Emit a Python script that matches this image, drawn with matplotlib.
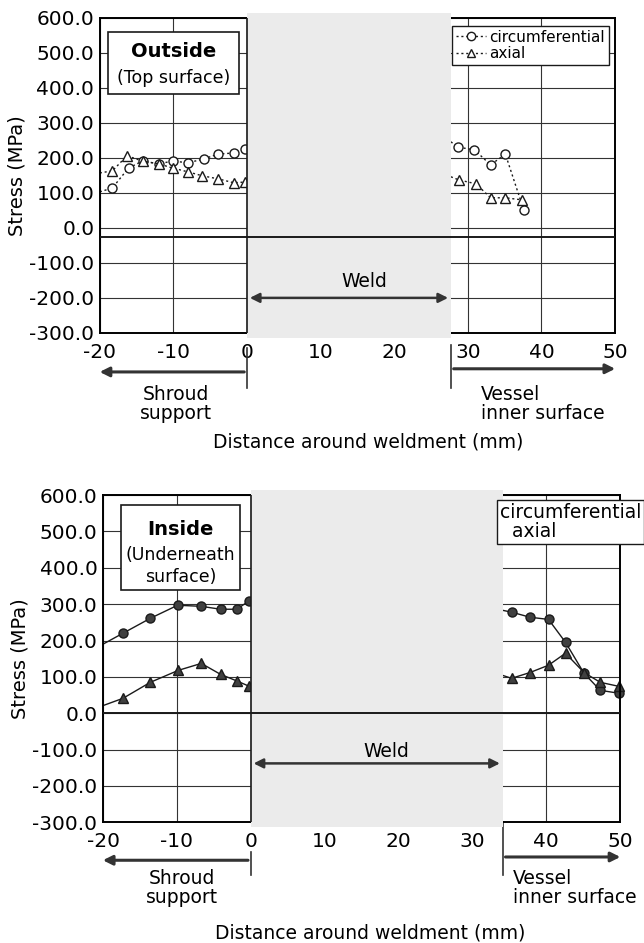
import matplotlib

matplotlib.use("Agg")
import matplotlib.pyplot as plt
from matplotlib.lines import Line2D
from matplotlib.patches import Rectangle

plt.rcParams["font.family"] = ["DejaVu Sans"]
plt.rcParams["axes.unicode_minus"] = False

# outside (top surface); first value of each segment is where the line enters
out_circ_left_x = [-20, -18.3, -16.1, -14.2, -12.0, -10.1, -8.0, -5.9, -3.9, -1.8, -0.3]
out_circ_left_y = [103, 114, 171, 191, 183, 191, 186, 197, 211, 214, 226]
out_circ_right_x = [27.7, 28.6, 30.9, 33.1, 35.1, 37.6]
out_circ_right_y = [246, 231, 223, 180, 211, 51]
out_ax_left_x = [-20, -18.3, -16.3, -14.2, -12.0, -10.1, -8.0, -6.1, -3.9, -1.8, -0.3]
out_ax_left_y = [157, 163, 206, 191, 183, 171, 160, 149, 140, 129, 131]
out_ax_right_x = [27.7, 28.8, 31.1, 33.1, 35.1, 37.4]
out_ax_right_y = [146, 137, 126, 86, 86, 80]

# inside (underneath surface)
in_circ_left_x = [-20, -17.3, -13.6, -9.9, -6.7, -4.1, -1.9, -0.3]
in_circ_left_y = [190, 220, 261, 297, 294, 286, 286, 308]
in_circ_right_x = [34.1, 35.3, 37.8, 40.3, 42.6, 45.1, 47.3, 49.8]
in_circ_right_y = [283, 278, 264, 258, 195, 110, 63, 55]
in_ax_left_x = [-20, -17.3, -13.6, -9.8, -6.7, -4.1, -1.8, -0.2]
in_ax_left_y = [21, 41, 85, 118, 137, 107, 88, 74]
in_ax_right_x = [34.1, 35.3, 37.8, 40.3, 42.6, 45.1, 47.3, 49.8]
in_ax_right_y = [104, 96, 112, 132, 165, 112, 85, 74]

x_ticks = [-20, -10, 0, 10, 20, 30, 40, 50]
y_ticks = [600, 500, 400, 300, 200, 100, 0, -100, -200, -300]

GRAY = "#ebebeb"
TICK_FS = 14.5
LABEL_FS = 13.5


def setup_axes(ax, weld_end, base_y):
    ax.set_xlim(-20, 50)
    ax.set_ylim(-300, 600)
    ax.set_xticks(x_ticks)
    ax.set_yticks(y_ticks)
    ax.set_yticklabels([f"{v:.1f}" for v in y_ticks])
    ax.tick_params(length=0, labelsize=TICK_FS)
    ax.tick_params(axis="x", pad=7)
    ax.tick_params(axis="y", pad=4)
    ax.grid(True, color="0.2", lw=0.8)
    for s in ax.spines.values():
        s.set_linewidth(1.4)
    ax.add_patch(Rectangle((0, -0.015), weld_end, 1.03, transform=ax.get_xaxis_transform(),
                           facecolor=GRAY, edgecolor="none", zorder=3, clip_on=False))
    ax.axvline(0, color="0.1", lw=1.2, zorder=4)
    ax.axhline(base_y, color="0.1", lw=1.4, zorder=4)
    ax.set_ylabel("Stress (MPa)", fontsize=14, labelpad=2)


def seg(ax, x, y, marker, ls, fill):
    ax.plot(x, y, color="0.1", lw=1.0, ls=ls, marker=marker, markevery=range(1, len(x)),
            markersize=6.5, markerfacecolor=fill, markeredgecolor="0.1", markeredgewidth=1.0,
            zorder=2.2, clip_on=False)


def side_labels(ax, weld_end, arrow_y, tick_y0, tick_y1, shroud_x, text_y, vessel_x, vtick_y0):
    tr = ax.get_xaxis_transform()
    ax.annotate("", xy=(-20.4, arrow_y), xytext=(0, arrow_y), xycoords=tr, textcoords=tr,
                arrowprops=dict(arrowstyle="-|>", color="0.2", lw=2.2, mutation_scale=14))
    ax.annotate("", xy=(50.4, arrow_y + 0.01), xytext=(weld_end, arrow_y + 0.01), xycoords=tr,
                textcoords=tr,
                arrowprops=dict(arrowstyle="-|>", color="0.2", lw=2.2, mutation_scale=14))
    ax.plot([0, 0], [tick_y0, tick_y1], transform=tr, color="0.2", lw=1.2, clip_on=False)
    ax.plot([weld_end, weld_end], [vtick_y0, tick_y1], transform=tr, color="0.2", lw=1.2,
            clip_on=False)
    ax.text(shroud_x, text_y, "Shroud\nsupport", transform=tr, ha="center", va="center",
            fontsize=LABEL_FS, linespacing=1.0)
    ax.text(vessel_x, text_y, "Vessel\ninner surface", transform=tr, ha="left", va="center",
            fontsize=LABEL_FS, linespacing=1.0)


fig = plt.figure(figsize=(6.44, 9.43), dpi=100)

# ---------------- outside ----------------
ax1 = fig.add_axes([0.155, 0.647, 0.800, 0.334])
setup_axes(ax1, 27.7, -25)
seg(ax1, out_circ_left_x, out_circ_left_y, "o", (0, (1.5, 2)), "white")
seg(ax1, out_circ_right_x, out_circ_right_y, "o", (0, (1.5, 2)), "white")
seg(ax1, out_ax_left_x, out_ax_left_y, "^", (0, (1.5, 2)), "white")
seg(ax1, out_ax_right_x, out_ax_right_y, "^", (0, (1.5, 2)), "white")

ax1.annotate("", xy=(0, -200), xytext=(27.7, -200),
             arrowprops=dict(arrowstyle="<|-|>", color="0.2", lw=1.8, mutation_scale=14), zorder=5)
ax1.text(15.9, -154, "Weld", ha="center", va="center", fontsize=LABEL_FS, zorder=5)

ax1.add_patch(Rectangle((-18.9, 383), 17.8, 177, facecolor="white", edgecolor="0.1",
                        lw=1.2, zorder=6))
ax1.text(-10, 503, "Outside", ha="center", va="center", fontsize=14, fontweight="bold", zorder=7)
ax1.text(-10, 429, "(Top surface)", ha="center", va="center", fontsize=12.5, zorder=7)

h1 = [Line2D([], [], color="0.1", lw=1.0, ls=(0, (1.5, 2)), marker="o", markersize=6,
             markerfacecolor="white", markeredgecolor="0.1"),
      Line2D([], [], color="0.1", lw=1.0, ls=(0, (1.5, 2)), marker="^", markersize=6,
             markerfacecolor="white", markeredgecolor="0.1")]
leg1 = ax1.legend(h1, ["circumferential", "axial"], loc="upper right",
                  bbox_to_anchor=(0.988, 0.975), borderaxespad=0, fancybox=False,
                  edgecolor="0.1", framealpha=1, fontsize=11, handlelength=2.0,
                  handletextpad=0.2, borderpad=0.25, labelspacing=0.1)
leg1.get_frame().set_linewidth(1.0)

side_labels(ax1, 27.7, -0.124, -0.048, -0.175, -9.7, -0.225, 31.8, -0.038)
ax1.set_xlabel("Distance around weldment (mm)", fontsize=LABEL_FS)
ax1.xaxis.set_label_coords(0.52, -0.315)

# ---------------- inside ----------------
ax2 = fig.add_axes([0.160, 0.128, 0.803, 0.347])
setup_axes(ax2, 34.1, 0)
seg(ax2, in_circ_left_x, in_circ_left_y, "o", "-", "0.25")
seg(ax2, in_circ_right_x, in_circ_right_y, "o", "-", "0.25")
seg(ax2, in_ax_left_x, in_ax_left_y, "^", "-", "0.25")
seg(ax2, in_ax_right_x, in_ax_right_y, "^", "-", "0.25")

ax2.annotate("", xy=(0, -138), xytext=(34.1, -138),
             arrowprops=dict(arrowstyle="<|-|>", color="0.2", lw=1.8, mutation_scale=14), zorder=5)
ax2.text(18.4, -105, "Weld", ha="center", va="center", fontsize=LABEL_FS, zorder=5)

ax2.add_patch(Rectangle((-17.6, 338), 16.2, 234, facecolor="white", edgecolor="0.1",
                        lw=1.2, zorder=6))
ax2.text(-9.5, 504, "Inside", ha="center", va="center", fontsize=14, fontweight="bold", zorder=7)
ax2.text(-9.5, 435, "(Underneath", ha="center", va="center", fontsize=12.5, zorder=7)
ax2.text(-9.5, 374, "surface)", ha="center", va="center", fontsize=12.5, zorder=7)

h2 = [Line2D([], [], ls="none"), Line2D([], [], ls="none")]
leg2 = ax2.legend(h2, ["circumferential", "  axial"], loc="upper right",
                  bbox_to_anchor=(1.046, 0.985), borderaxespad=0, fancybox=False,
                  edgecolor="0.1", framealpha=1, fontsize=13.5, handlelength=0,
                  handletextpad=0, borderpad=0.15, labelspacing=0.0)
leg2.get_frame().set_linewidth(1.0)

side_labels(ax2, 34.1, -0.116, -0.092, -0.162, -9.3, -0.2, 35.5, 0.0)
ax2.set_xlabel("Distance around weldment (mm)", fontsize=LABEL_FS)
ax2.xaxis.set_label_coords(0.516, -0.31)

fig.savefig("out.png", dpi=100)
